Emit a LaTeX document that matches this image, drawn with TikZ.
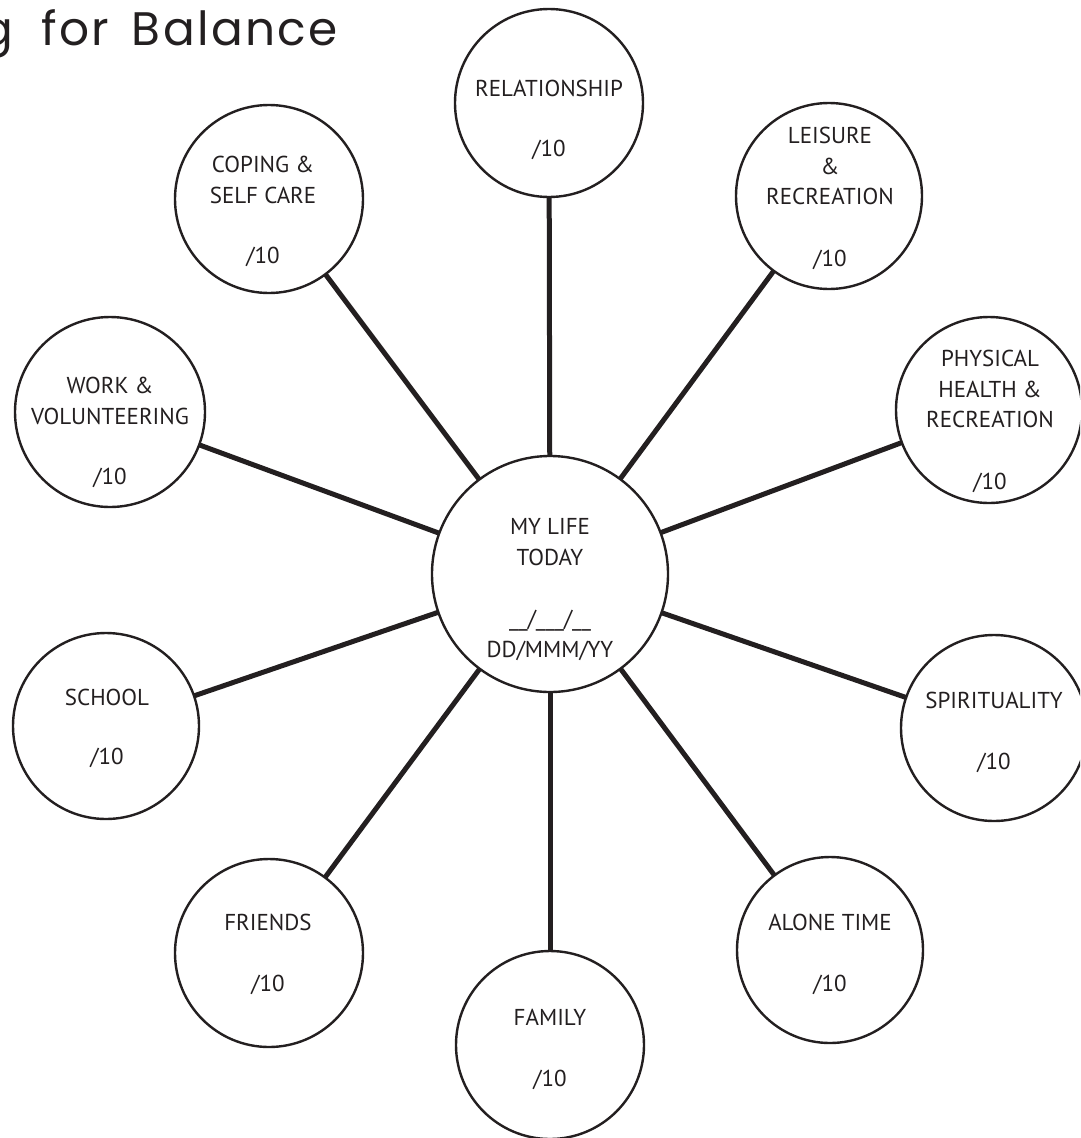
\documentclass[tikz,border=0pt]{standalone}
\usepackage{fontspec}
\setmainfont{PT Sans}
\newfontfamily\titlefont[LetterSpace=5]{Poppins}
\usetikzlibrary{backgrounds}
\definecolor{ink}{RGB}{35,31,32}
\tikzset{
  ring/.style={circle, draw=ink, line width=2.4pt, fill=white, inner sep=0pt, outer sep=0pt},
  lbl/.style={text=ink, align=center, inner sep=0pt, font=\fontsize{23}{30.5}\selectfont},
  spoke/.style={draw=ink, line width=5pt},
  ttl/.style={text=ink, inner sep=0pt, font=\titlefont\fontsize{47}{52}\selectfont}
}
\begin{document}
\begin{tikzpicture}[x=1pt,y=-1pt]
\useasboundingbox (0,0) rectangle (1080,1138);
\clip (0,0) rectangle (1080,1138);

% title
\node[ttl, anchor=base east] (title) at (338,45) {g\hskip 13pt\ for\hskip 8pt\ Balance};

% circles
\node[ring, minimum size=236pt] (ctr) at (550,574) {};
\node[ring, minimum size=188pt] (rel) at (549,103) {};
\node[ring, minimum size=186pt] (leis) at (829,196) {};
\node[ring, minimum size=186pt] (phys) at (989,410) {};
\node[ring, minimum size=186pt] (spir) at (994,728) {};
\node[ring, minimum size=186pt] (alone) at (830,950) {};
\node[ring, minimum size=188pt] (fam) at (550,1045) {};
\node[ring, minimum size=188pt] (friends) at (269,953) {};
\node[ring, minimum size=186pt] (school) at (106,726) {};
\node[ring, minimum size=190pt] (work) at (110,412) {};
\node[ring, minimum size=188pt] (coping) at (269,199) {};

% spokes
\begin{pgfonlayer}{background}
\foreach \n in {rel,leis,phys,spir,alone,fam,friends,school,work,coping}
  \draw[spoke] (ctr) -- (\n);
\end{pgfonlayer}

% texts
\node[lbl] (ctrT) at (550,542) {MY LIFE\\TODAY};
\node[lbl, anchor=base] (ctrB) at (550,626) {\_\_/\_\_\_/\_\_};
\node[lbl] (ctrD) at (550,651) {DD/MMM/YY};

\node[lbl] (relT) at (549,88) {RELATIONSHIP};
\node[lbl] (relS) at (549,150) {/10};

\node[lbl] (leisT) at (830,166) {LEISURE\\\&\\RECREATION};
\node[lbl] (leisS) at (830,260) {/10};

\node[lbl] (physT) at (990,389) {PHYSICAL\\HEALTH \&\\RECREATION};
\node[lbl] (physS) at (990,483) {/10};

\node[lbl] (spirT) at (994,700) {SPIRITUALITY};
\node[lbl] (spirS) at (994,763) {/10};

\node[lbl] (aloneT) at (830,922) {ALONE TIME};
\node[lbl] (aloneS) at (830,985) {/10};

\node[lbl] (famT) at (550,1017) {FAMILY};
\node[lbl] (famS) at (550,1080) {/10};

\node[lbl] (friendsT) at (268,922) {FRIENDS};
\node[lbl] (friendsS) at (268,985) {/10};

\node[lbl] (schoolT) at (107,697) {SCHOOL};
\node[lbl] (schoolS) at (107,758) {/10};

\node[lbl] (workT) at (110,401) {WORK \&\\VOLUNTEERING};
\node[lbl] (workS) at (110,478) {/10};

\node[lbl] (copingT) at (263,180) {COPING \&\\SELF CARE};
\node[lbl] (copingS) at (263,257) {/10};
\end{tikzpicture}
\end{document}
